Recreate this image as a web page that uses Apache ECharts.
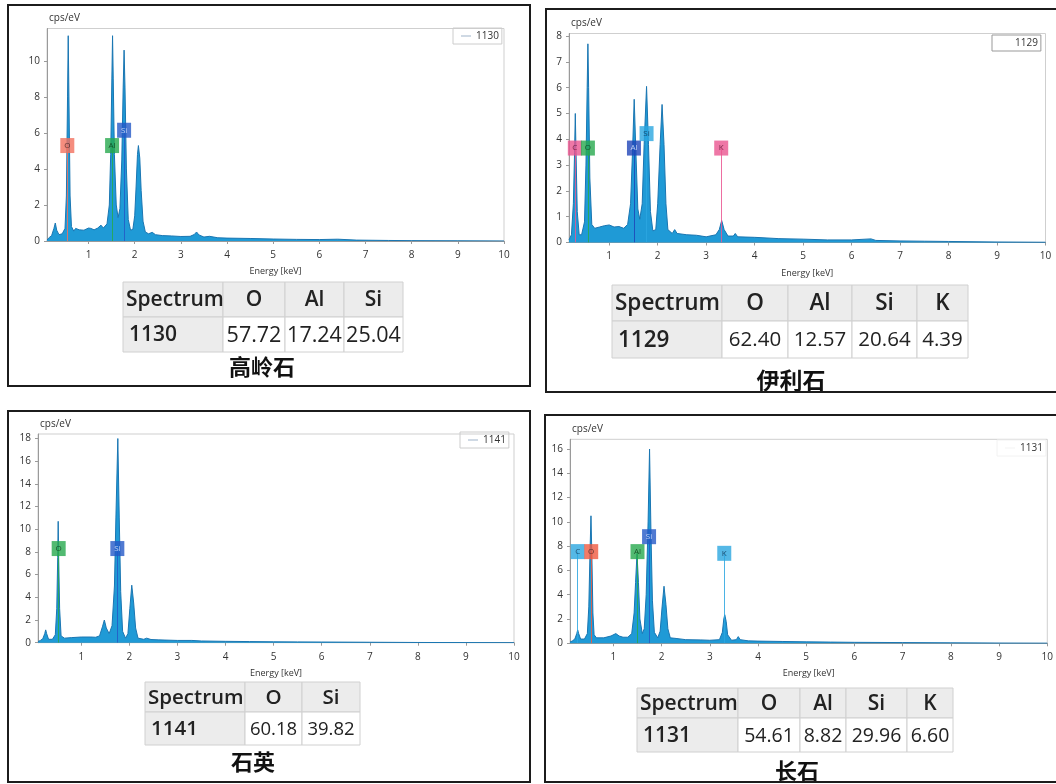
<!DOCTYPE html>
<html>
<head>
<meta charset="utf-8">
<title>EDS spectra</title>
<script src="https://cdn.jsdelivr.net/npm/echarts@6/dist/echarts.min.js"></script>
<style>
html, body { margin: 0; padding: 0; background: #fff; }
#main { width: 1056px; height: 784px; }
</style>
</head>
<body>
<div id="main"></div>
<script>
// x axis tick labels (keV)
var energyTicks = [1, 2, 3, 4, 5, 6, 7, 8, 9, 10];

// 高岭石 - spectrum 1130, [keV, cps/eV]
var spec1130 = [[0.10,0.05],[0.15,0.2],[0.2,0.3],[0.25,0.7],[0.28,1.0],[0.31,0.6],[0.36,0.35],[0.43,0.4],[0.49,0.7],[0.52,2.5],[0.545,8.0],[0.56,11.4],[0.575,8.0],[0.6,2.5],[0.63,0.8],[0.68,0.55],[0.72,0.7],[0.8,0.62],[0.9,0.6],[1.0,0.72],[1.05,0.7],[1.12,0.62],[1.2,0.72],[1.27,0.88],[1.32,0.72],[1.4,0.95],[1.45,2.0],[1.48,4.8],[1.505,9.0],[1.52,11.4],[1.535,9.0],[1.56,4.8],[1.6,2.0],[1.64,1.3],[1.68,1.8],[1.72,4.5],[1.75,8.5],[1.77,10.6],[1.79,8.5],[1.82,4.0],[1.86,1.2],[1.91,0.6],[1.96,0.65],[2.0,1.4],[2.03,3.0],[2.06,4.8],[2.08,5.3],[2.11,4.6],[2.14,2.8],[2.18,1.1],[2.23,0.5],[2.3,0.4],[2.38,0.48],[2.45,0.35],[2.6,0.3],[2.8,0.28],[3.0,0.25],[3.2,0.26],[3.29,0.36],[3.34,0.5],[3.39,0.34],[3.5,0.22],[3.62,0.26],[3.8,0.18],[4.0,0.16],[4.5,0.14],[5.0,0.11],[5.5,0.09],[6.0,0.08],[6.4,0.1],[6.8,0.05],[7.5,0.03],[8.0,0.02],[9.0,0.01],[10.0,0.0]];
var yTicks1130 = [0, 2, 4, 6, 8, 10];
var elem1130 = ['O', 'Al', 'Si'];
var line1130 = [0.54, 1.51, 1.77];
var tag1130 = [5.3, 5.3, 6.15];
var head1130 = ['Spectrum', 'O', 'Al', 'Si'];
var row1130 = ['1130', '57.72', '17.24', '25.04'];

// 伊利石 - spectrum 1129
var spec1129 = [[0.17,0.1],[0.22,0.3],[0.26,1.5],[0.285,3.5],[0.3,5.0],[0.315,3.5],[0.34,1.2],[0.38,0.3],[0.43,0.3],[0.49,0.8],[0.52,3.0],[0.545,6.0],[0.56,7.7],[0.575,6.0],[0.6,2.5],[0.64,0.7],[0.7,0.55],[0.8,0.6],[0.9,0.65],[1.0,0.68],[1.1,0.6],[1.2,0.62],[1.3,0.55],[1.38,0.7],[1.44,1.5],[1.48,3.5],[1.515,5.55],[1.55,3.5],[1.59,1.3],[1.63,0.9],[1.68,1.5],[1.72,3.8],[1.77,6.05],[1.81,3.8],[1.85,1.2],[1.9,0.45],[1.96,0.5],[2.0,1.5],[2.05,3.8],[2.09,5.35],[2.13,3.8],[2.17,1.5],[2.21,0.5],[2.3,0.35],[2.35,0.5],[2.4,0.35],[2.6,0.3],[2.8,0.28],[3.0,0.22],[3.2,0.3],[3.27,0.5],[3.32,0.85],[3.37,0.5],[3.45,0.25],[3.56,0.25],[3.6,0.35],[3.65,0.22],[4.0,0.2],[4.5,0.15],[5.0,0.13],[5.5,0.1],[6.0,0.1],[6.4,0.14],[6.5,0.08],[7.0,0.06],[7.5,0.05],[8.0,0.04],[9.0,0.02],[10.0,0.01]];
var yTicks1129 = [0, 1, 2, 3, 4, 5, 6, 7, 8];
var elem1129 = ['C', 'O', 'Al', 'Si', 'K'];
var line1129 = [0.29, 0.56, 1.51, 1.77, 3.31];
var tag1129 = [3.66, 3.66, 3.66, 4.22, 3.66];
var head1129 = ['Spectrum', 'O', 'Al', 'Si', 'K'];
var row1129 = ['1129', '62.40', '12.57', '20.64', '4.39'];

// 石英 - spectrum 1141
var spec1141 = [[0.1,0.1],[0.15,0.2],[0.2,0.35],[0.24,0.8],[0.26,1.13],[0.28,0.8],[0.32,0.3],[0.4,0.3],[0.46,0.7],[0.49,3.0],[0.51,7.5],[0.52,10.7],[0.53,7.5],[0.55,3.0],[0.58,0.6],[0.65,0.4],[0.8,0.45],[1.0,0.5],[1.2,0.5],[1.3,0.48],[1.38,0.6],[1.44,1.4],[1.48,2.0],[1.52,1.3],[1.58,0.8],[1.64,1.5],[1.69,5.0],[1.72,11.0],[1.76,18.0],[1.79,11.0],[1.82,4.5],[1.86,1.0],[1.92,0.4],[1.97,0.8],[2.01,3.0],[2.05,5.07],[2.09,3.5],[2.13,1.3],[2.18,0.4],[2.3,0.3],[2.36,0.4],[2.45,0.28],[2.6,0.25],[3.0,0.2],[3.3,0.2],[3.5,0.15],[4.0,0.12],[4.5,0.1],[5.0,0.08],[5.5,0.07],[6.0,0.06],[7.0,0.04],[8.0,0.02],[9.0,0.01],[10.0,0.0]];
var yTicks1141 = [0, 2, 4, 6, 8, 10, 12, 14, 16, 18];
var elem1141 = ['O', 'Si'];
var line1141 = [0.53, 1.75];
var tag1141 = [8.3, 8.3];
var head1141 = ['Spectrum', 'O', 'Si'];
var row1141 = ['1141', '60.18', '39.82'];

// 长石 - spectrum 1131
var spec1131 = [[0.1,0.1],[0.15,0.2],[0.2,0.35],[0.24,0.8],[0.26,1.1],[0.28,0.8],[0.32,0.35],[0.4,0.35],[0.46,0.8],[0.49,3.0],[0.515,7.5],[0.535,10.5],[0.555,7.0],[0.575,2.5],[0.6,0.7],[0.65,0.45],[0.8,0.45],[0.95,0.6],[1.05,0.8],[1.12,0.6],[1.2,0.5],[1.3,0.5],[1.38,0.8],[1.43,2.5],[1.46,5.0],[1.49,7.4],[1.52,5.0],[1.55,2.0],[1.6,0.8],[1.64,1.2],[1.68,4.0],[1.72,10.0],[1.75,16.0],[1.78,9.0],[1.81,3.5],[1.85,0.9],[1.92,0.45],[1.97,1.0],[2.01,3.0],[2.05,4.7],[2.09,3.2],[2.13,1.2],[2.18,0.45],[2.3,0.4],[2.5,0.3],[2.8,0.28],[3.0,0.25],[3.2,0.3],[3.26,0.9],[3.29,2.0],[3.31,2.35],[3.34,1.8],[3.37,0.7],[3.45,0.25],[3.55,0.3],[3.59,0.55],[3.63,0.3],[3.8,0.2],[4.0,0.18],[4.5,0.15],[5.0,0.12],[5.5,0.1],[6.0,0.08],[7.0,0.06],[8.0,0.04],[9.0,0.02],[10.0,0.01]];
var yTicks1131 = [0, 2, 4, 6, 8, 10, 12, 14, 16];
var elem1131 = ['C', 'O', 'Al', 'Si', 'K'];
var line1131 = [0.26, 0.54, 1.5, 1.74, 3.3];
var tag1131 = [7.55, 7.55, 7.55, 8.78, 7.41];
var head1131 = ['Spectrum', 'O', 'Al', 'Si', 'K'];
var row1131 = ['1131', '54.61', '8.82', '29.96', '6.60'];

// layout of the four panels (page pixels)
var panels = [
  { name: '1130', caption: '高岭石', spec: spec1130, yTicks: yTicks1130, elem: elem1130, lines: line1130, tags: tag1130, head: head1130, row: row1130,
    frame: [8, 5, 522, 381], grid: [47, 28.5, 457, 212.5], xMin: 0.1, yMax: 11.8,
    tagColor: ['#f2705e', '#27a94e', '#2459c7'], tagText: ['#402020', '#0d3a1a', '#dfe8ff'],
    legend: [453, 28, '#cccccc', '#9fb3c8'],
    cols: [123, 223, 285, 344, 403], rows: [282, 317, 352], hs: 21, fs: 21.5, cap: [262, 367, 22] },
  { name: '1129', caption: '伊利石', spec: spec1129, yTicks: yTicks1129, elem: elem1129, lines: line1129, tags: tag1129, head: head1129, row: row1129,
    frame: [546, 9, 530, 383], grid: [569, 33.5, 476.5, 209], xMin: 0.17, yMax: 8.1,
    tagColor: ['#ea5590', '#27a94e', '#1f45b8', '#2ba6e0', '#ea5590'], tagText: ['#5a1030', '#0d3a1a', '#dfe8ff', '#0d3050', '#5a1030'],
    legend: [992, 35, '#999999', '#ffffff'],
    cols: [612, 722, 788, 852, 917, 968], rows: [285, 321, 358], hs: 22.5, fs: 20.5, cap: [791, 380, 23] },
  { name: '1141', caption: '石英', spec: spec1141, yTicks: yTicks1141, elem: elem1141, lines: line1141, tags: tag1141, head: head1141, row: row1141,
    frame: [8, 411, 522, 371], grid: [38, 434, 476, 208.7], xMin: 0.1, yMax: 18.4,
    tagColor: ['#27a94e', '#2459c7'], tagText: ['#0d3a1a', '#dfe8ff'],
    legend: [460, 432, '#cccccc', '#9fb3c8'],
    cols: [145, 245, 302, 360], rows: [682, 712, 745], hs: 20.5, fs: 18.5, cap: [253, 762, 22] },
  { name: '1131', caption: '长石', spec: spec1131, yTicks: yTicks1131, elem: elem1131, lines: line1131, tags: tag1131, head: head1131, row: row1131,
    frame: [545, 415, 530, 367], grid: [570, 439.3, 479, 204], xMin: 0.1, yMax: 16.8,
    tagColor: ['#2ba6e0', '#f05a40', '#27a94e', '#2459c7', '#2ba6e0'], tagText: ['#0d3050', '#402020', '#0d3a1a', '#dfe8ff', '#0d3050'],
    legend: [997, 440, '#f2f2f2', '#f2f2f2'],
    cols: [637, 738, 800, 846, 907, 953], rows: [688, 718, 752], hs: 21, fs: 19.5, cap: [797, 771, 22] }
];

var axisFont = '"Open Sans", "DejaVu Sans", sans-serif';
var tableFont = '"Open Sans", "Liberation Sans", sans-serif';
var cjkFont = '"Noto Sans CJK SC", sans-serif';

var option = {
  animation: false,
  backgroundColor: '#fff',
  grid: [], xAxis: [], yAxis: [], series: [], legend: [],
  graphic: { elements: [] }
};
var gfx = option.graphic.elements;

panels.forEach(function (p, i) {
  option.grid.push({
    left: p.grid[0], top: p.grid[1], width: p.grid[2], height: p.grid[3],
    show: true, borderColor: '#cfcfcf', borderWidth: 1
  });
  option.xAxis.push({
    type: 'value', gridIndex: i, min: p.xMin, max: 10,
    name: 'Energy [keV]', nameLocation: 'middle', nameGap: 26,
    nameTextStyle: { fontSize: 9, color: '#333', fontFamily: axisFont },
    axisLine: { onZero: false, lineStyle: { color: '#9a9a9a' } },
    axisTick: { customValues: energyTicks, length: 3, lineStyle: { color: '#9a9a9a' } },
    axisLabel: { customValues: energyTicks, fontSize: 10, color: '#333', margin: 9, fontFamily: axisFont },
    splitLine: { show: false }
  });
  option.yAxis.push({
    type: 'value', gridIndex: i, min: 0, max: p.yMax,
    name: 'cps/eV', nameLocation: 'end', nameGap: 5,
    nameTextStyle: { align: 'left', fontSize: 10, color: '#333', fontFamily: axisFont, padding: [0, 0, 0, 2] },
    axisLine: { show: true, lineStyle: { color: '#9a9a9a' } },
    axisTick: { show: true, customValues: p.yTicks, length: 3, lineStyle: { color: '#9a9a9a' } },
    axisLabel: { customValues: p.yTicks, fontSize: 10, color: '#333', margin: 7, fontFamily: axisFont },
    splitLine: { show: false }
  });

  // the spectrum itself
  option.series.push({
    name: p.name, type: 'line', xAxisIndex: i, yAxisIndex: i,
    data: p.spec, symbol: 'none', z: 2,
    lineStyle: { color: '#1a76b2', width: 1 },
    areaStyle: { color: '#1f9ad6', opacity: 1 }
  });
  // element marker lines, from the axis up to the tag
  option.series.push({
    type: 'lines', coordinateSystem: 'cartesian2d', xAxisIndex: i, yAxisIndex: i, z: 3, silent: true,
    data: p.elem.map(function (el, k) {
      return { coords: [[p.lines[k], 0], [p.lines[k], p.tags[k]]], lineStyle: { color: p.tagColor[k], width: 1, opacity: 0.85 } };
    })
  });
  // element tags
  option.series.push({
    name: p.name + ' tags', type: 'scatter', xAxisIndex: i, yAxisIndex: i, z: 4, silent: true,
    symbol: 'rect', symbolSize: [14, 15],
    data: p.elem.map(function (el, k) {
      return { name: el, value: [p.lines[k], p.tags[k]], itemStyle: { color: p.tagColor[k] }, label: { color: p.tagText[k] } };
    }),
    label: { show: true, position: 'inside', formatter: '{b}', fontSize: 8, fontFamily: axisFont }
  });

  option.legend.push({
    data: [p.name], left: p.legend[0], top: p.legend[1],
    padding: [3, 3, 3, 8], itemWidth: 10, itemHeight: 1, icon: 'rect',
    borderColor: p.legend[2], borderWidth: 1, selectedMode: false,
    itemStyle: { color: p.legend[3] },
    textStyle: { fontSize: 10, color: '#333', fontFamily: axisFont }
  });

  // panel frame
  gfx.push({
    type: 'rect', z: 10, silent: true,
    shape: { x: p.frame[0], y: p.frame[1], width: p.frame[2], height: p.frame[3] },
    style: { fill: 'none', stroke: '#1c1c1c', lineWidth: 2 }
  });

  // result table
  [p.head, p.row].forEach(function (cells, r) {
    cells.forEach(function (txt, c) {
      var x0 = p.cols[c], x1 = p.cols[c + 1], y0 = p.rows[r], y1 = p.rows[r + 1];
      var shaded = r === 0 || c === 0;
      gfx.push({
        type: 'rect', z: 5, silent: true,
        shape: { x: x0, y: y0, width: x1 - x0, height: y1 - y0 },
        style: { fill: shaded ? '#ececec' : '#ffffff', stroke: '#d0d0d0', lineWidth: 1 }
      });
      gfx.push({
        type: 'text', z: 6, silent: true,
        x: c === 0 ? x0 + (r === 0 ? 3 : 6) : (x0 + x1) / 2,
        y: (y0 + y1) / 2 + 1,
        style: {
          text: txt, fill: '#222', fontSize: shaded ? p.hs : p.fs, fontWeight: shaded ? 600 : 400, fontFamily: tableFont,
          align: c === 0 ? 'left' : 'center', verticalAlign: 'middle'
        }
      });
    });
  });

  // mineral name under the table
  gfx.push({
    type: 'text', z: 6, silent: true, x: p.cap[0], y: p.cap[1],
    style: { text: p.caption, fill: '#111', fontSize: p.cap[2], fontWeight: 700, fontFamily: cjkFont, align: 'center', verticalAlign: 'middle' }
  });
});

var myChart = echarts.init(document.getElementById('main'));
myChart.setOption(option);
</script>
</body>
</html>
